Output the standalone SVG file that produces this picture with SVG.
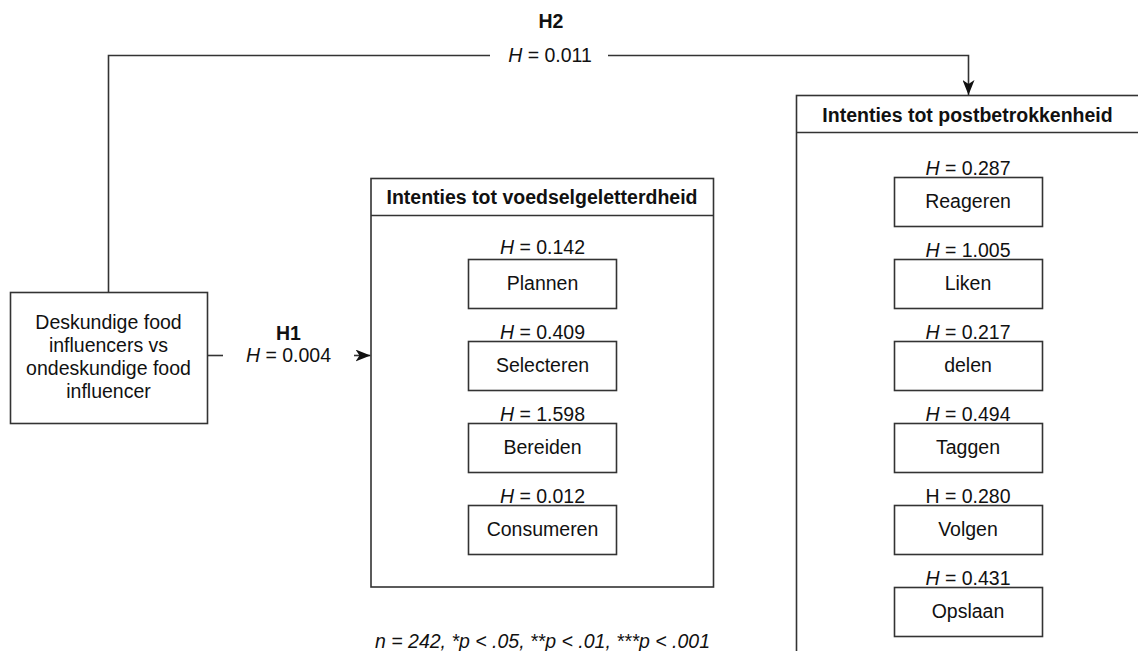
<svg xmlns="http://www.w3.org/2000/svg" width="1138" height="651" viewBox="0 0 1138 651">
<defs>
<style>
text{font-family:"Liberation Sans",Arial,sans-serif;font-size:19.5px;fill:#111;text-anchor:middle}
.b{font-weight:bold}
.i{font-style:italic}
.box{fill:#fff;stroke:#333;stroke-width:1.6}
.ln{fill:none;stroke:#333;stroke-width:1.6}
</style>
<marker id="arr" viewBox="0 0 15 12" refX="15" refY="6" markerWidth="15" markerHeight="12" markerUnits="userSpaceOnUse" orient="auto">
<path d="M0,0 L15,6 L0,12 L4,6 Z" fill="#111"/>
</marker>
</defs>
<rect width="1138" height="651" fill="#fff"/>

<g id="connectors">
<path class="ln" d="M108.5,292 V55.5 H490"/>
<path class="ln" d="M608,55.5 H968.5 V95" marker-end="url(#arr)"/>
<path class="ln" d="M207,355.5 H223"/>
<path class="ln" d="M354,355.5 H370.5" marker-end="url(#arr)"/>
<text class="b" x="551" y="28">H2</text>
<text x="550" y="62"><tspan class="i">H</tspan> = 0.011</text>
<text class="b" x="288.5" y="340">H1</text>
<text x="288.5" y="362"><tspan class="i">H</tspan> = 0.004</text>
</g>

<g id="source">
<rect class="box" x="10.5" y="292.5" width="197" height="131"/>
<text x="108.5" y="329">Deskundige food</text>
<text x="108.5" y="352">influencers vs</text>
<text x="108.5" y="375">ondeskundige food</text>
<text x="108.5" y="398">influencer</text>
</g>

<g id="voedselgeletterdheid">
<rect class="box" x="371" y="178.5" width="342.5" height="408.5"/>
<path class="ln" d="M371,215.5 H713.5"/>
<text class="b" x="542" y="204">Intenties tot voedselgeletterdheid</text>
</g>

<g id="plannen">
<text x="542.5" y="254"><tspan class="i">H</tspan> = 0.142</text>
<rect class="box" x="468.5" y="259.5" width="148" height="49"/>
<text x="542.5" y="290">Plannen</text>
</g>
<g id="selecteren">
<text x="542.5" y="339"><tspan class="i">H</tspan> = 0.409</text>
<rect class="box" x="468.5" y="341.5" width="148" height="49"/>
<text x="542.5" y="372">Selecteren</text>
</g>
<g id="bereiden">
<text x="542.5" y="421"><tspan class="i">H</tspan> = 1.598</text>
<rect class="box" x="468.5" y="423.5" width="148" height="49"/>
<text x="542.5" y="454">Bereiden</text>
</g>
<g id="consumeren">
<text x="542.5" y="503"><tspan class="i">H</tspan> = 0.012</text>
<rect class="box" x="468.5" y="505.5" width="148" height="49"/>
<text x="542.5" y="536">Consumeren</text>
</g>

<g id="postbetrokkenheid">
<rect class="box" x="796.5" y="95.5" width="360" height="580"/>
<path class="ln" d="M796.5,132.5 H1140"/>
<text class="b" x="967.5" y="122">Intenties tot postbetrokkenheid</text>
</g>

<g id="reageren">
<text x="968" y="175"><tspan class="i">H</tspan> = 0.287</text>
<rect class="box" x="894.5" y="177.5" width="148" height="49"/>
<text x="968" y="208">Reageren</text>
</g>
<g id="liken">
<text x="968" y="257"><tspan class="i">H</tspan> = 1.005</text>
<rect class="box" x="894.5" y="259.5" width="148" height="49"/>
<text x="968" y="290">Liken</text>
</g>
<g id="delen">
<text x="968" y="339"><tspan class="i">H</tspan> = 0.217</text>
<rect class="box" x="894.5" y="341.5" width="148" height="49"/>
<text x="968" y="372">delen</text>
</g>
<g id="taggen">
<text x="968" y="421"><tspan class="i">H</tspan> = 0.494</text>
<rect class="box" x="894.5" y="423.5" width="148" height="49"/>
<text x="968" y="454">Taggen</text>
</g>
<g id="volgen">
<text x="968" y="503">H = 0.280</text>
<rect class="box" x="894.5" y="505.5" width="148" height="49"/>
<text x="968" y="536">Volgen</text>
</g>
<g id="opslaan">
<text x="968" y="585"><tspan class="i">H</tspan> = 0.431</text>
<rect class="box" x="894.5" y="587.5" width="148" height="49"/>
<text x="968" y="618">Opslaan</text>
</g>

<g id="footnote">
<text class="i" x="542.5" y="648">n = 242, *p &lt; .05, **p &lt; .01, ***p &lt; .001</text>
</g>
</svg>
